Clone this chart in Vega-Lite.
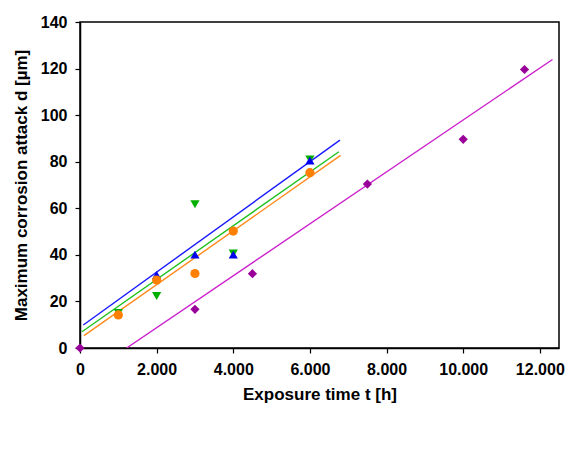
{
  "$schema": "https://vega.github.io/schema/vega-lite/v6.json",
  "width": 479,
  "height": 326,
  "autosize": {"type": "none"},
  "padding": {"left": 80, "top": 22, "right": 9, "bottom": 122},
  "background": "white",
  "config": {
    "view": {"stroke": "#000", "strokeWidth": 1.5},
    "font": "Liberation Sans",
    "axis": {
      "grid": false,
      "domainColor": "#000",
      "domainWidth": 1.5,
      "tickColor": "#000",
      "tickWidth": 1.2,
      "tickSize": 5,
      "labelFont": "Liberation Sans",
      "labelFontSize": 16,
      "labelFontWeight": "bold",
      "labelColor": "#000",
      "labelFlush": false,
      "labelPadding": 8,
      "titleFont": "Liberation Sans",
      "titleFontSize": 17,
      "titleFontWeight": "bold",
      "titleColor": "#000",
      "labelOverlap": false
    },
    "legend": {
      "orient": "none",
      "legendX": 14,
      "legendY": 408,
      "direction": "horizontal",
      "columns": 4,
      "gridAlign": "all",
      "strokeColor": "#333",
      "padding": 9,
      "labelFont": "Liberation Sans",
      "labelFontSize": 14,
      "labelColor": "#000",
      "labelOffset": 14,
      "symbolSize": 50,
      "columnPadding": 0
    }
  },
  "datasets": {
    "pts": [
      {"series": "Optifer IVa", "t": 1000, "d": 15.0},
      {"series": "Optifer IVa", "t": 2000, "d": 22.3},
      {"series": "Optifer IVa", "t": 3000, "d": 61.7},
      {"series": "Optifer IVa", "t": 4000, "d": 40.6},
      {"series": "Optifer IVa", "t": 6000, "d": 81.0},
      {"series": "F82H-mod.", "t": 2000, "d": 31.3},
      {"series": "F82H-mod.", "t": 3000, "d": 40.1},
      {"series": "F82H-mod.", "t": 4000, "d": 40.1},
      {"series": "F82H-mod.", "t": 6000, "d": 80.5},
      {"series": "MANET 1", "t": 1000, "d": 14.2},
      {"series": "MANET 1", "t": 2000, "d": 29.2},
      {"series": "MANET 1", "t": 3000, "d": 32.0},
      {"series": "MANET 1", "t": 4000, "d": 50.2},
      {"series": "MANET 1", "t": 6000, "d": 75.3},
      {"series": "EUROFER 97", "t": 0, "d": 0},
      {"series": "EUROFER 97", "t": 3000, "d": 16.6},
      {"series": "EUROFER 97", "t": 4500, "d": 31.9},
      {"series": "EUROFER 97", "t": 7500, "d": 70.4},
      {"series": "EUROFER 97", "t": 10000, "d": 89.6},
      {"series": "EUROFER 97", "t": 11600, "d": 119.6}
    ],
    "fits": [
      {"fit": "MANET 1", "t": 104, "d": 5.3},
      {"fit": "MANET 1", "t": 6801, "d": 82.7},
      {"fit": "F82H-mod.", "t": 86, "d": 9.9},
      {"fit": "F82H-mod.", "t": 6783, "d": 89.3},
      {"fit": "Optifer IVa", "t": 52, "d": 7.0},
      {"fit": "Optifer IVa", "t": 6757, "d": 84.3},
      {"fit": "EUROFER 97", "t": 1217, "d": 0},
      {"fit": "EUROFER 97", "t": 12330, "d": 123.9}
    ]
  },
  "layer": [
    {
      "data": {"name": "fits"},
      "mark": {"type": "line", "strokeWidth": 1.4, "clip": true},
      "encoding": {
        "x": {
          "field": "t", "type": "quantitative",
          "scale": {"domain": [0, 12500], "nice": false, "zero": false},
          "axis": {
            "title": "Exposure time t [h]",
            "values": [0, 500, 1000, 1500, 2000, 2500, 3000, 3500, 4000, 4500, 5000, 5500, 6000, 6500, 7000, 7500, 8000, 8500, 9000, 9500, 10000, 10500, 11000, 11500, 12000],
            "labelExpr": "datum.value % 2000 === 0 ? replace(format(datum.value, ','), ',', '.') : ''",
            "titlePadding": 9
          }
        },
        "y": {
          "field": "d", "type": "quantitative",
          "scale": {"domain": [0, 140], "nice": false, "zero": false},
          "axis": {
            "title": "Maximum corrosion attack d [µm]",
            "values": [0, 5, 10, 15, 20, 25, 30, 35, 40, 45, 50, 55, 60, 65, 70, 75, 80, 85, 90, 95, 100, 105, 110, 115, 120, 125, 130, 135, 140],
            "labelExpr": "datum.value % 20 === 0 ? format(datum.value, 'd') : ''",
            "titlePadding": 10
          }
        },
        "detail": {"field": "fit"},
        "stroke": {
          "field": "fit", "type": "nominal",
          "scale": {"domain": ["MANET 1", "F82H-mod.", "Optifer IVa", "EUROFER 97"], "range": ["#ff8a1c", "#1a1aff", "#1ec01e", "#cc22cc"]},
          "legend": null
        }
      }
    },
    {
      "data": {"name": "pts"},
      "mark": {"type": "point", "filled": true, "size": 85, "opacity": 1, "clip": false},
      "encoding": {
        "x": {"field": "t", "type": "quantitative"},
        "y": {"field": "d", "type": "quantitative"},
        "shape": {
          "field": "series", "type": "nominal", "title": null,
          "scale": {"domain": ["MANET 1", "F82H-mod.", "Optifer IVa", "EUROFER 97"], "range": ["circle", "triangle-up", "triangle-down", "diamond"]}
        },
        "color": {
          "field": "series", "type": "nominal", "title": null,
          "scale": {"domain": ["MANET 1", "F82H-mod.", "Optifer IVa", "EUROFER 97"], "range": ["#ff8000", "#0000ee", "#00b000", "#990099"]}
        }
      }
    }
  ]
}
